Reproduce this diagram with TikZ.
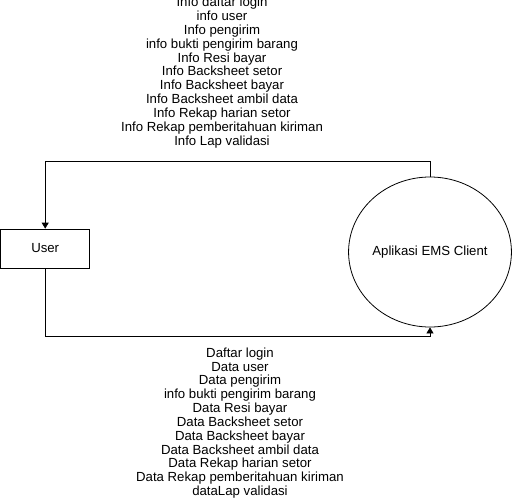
\documentclass[tikz,border=0pt]{standalone}
\usepackage{fontspec}
\setmainfont{Liberation Sans}
\usetikzlibrary{shapes.geometric,arrows.meta}
\begin{document}
\begin{tikzpicture}[x=1pt,y=-1pt,
  lbl/.style={align=center,inner sep=0pt,font=\fontsize{13.2}{13.85}\selectfont},
  entity/.style={draw,line width=0.8pt,minimum width=89pt,minimum height=39pt,inner sep=0pt,font=\fontsize{13.2}{14}\selectfont},
  proc/.style={draw,ellipse,line width=0.8pt,minimum width=159pt,minimum height=150pt,inner sep=0pt,font=\fontsize{13.2}{14}\selectfont},
  flow/.style={line width=0.8pt,-{Triangle[width=7pt,length=6pt]}}]
\useasboundingbox (0,0) rectangle (512,498);
\node[entity] (user) at (45.2,248.5) {User};
\node[proc] (app) at (430,252) {Aplikasi EMS Client};
\coordinate (tc) at (222,161.5);
\coordinate (bc) at (240,336.7);
\draw[flow] (app.north) |- (tc) -| (user.north);
\draw[flow] (user.south) |- (bc) -| (app.south);
\node[lbl] (toplbl) at (222,72.5) {Info daftar login\\info user\\Info pengirim\\info bukti pengirim barang\\Info Resi bayar\\Info Backsheet setor\\Info Backsheet bayar\\Info Backsheet ambil data\\Info Rekap harian setor\\Info Rekap pemberitahuan kiriman\\Info Lap validasi};
\node[lbl] (botlbl) at (240,423) {Daftar login\\Data user\\Data pengirim\\info bukti pengirim barang\\Data Resi bayar\\Data Backsheet setor\\Data Backsheet bayar\\Data Backsheet ambil data\\Data Rekap harian setor\\Data Rekap pemberitahuan kiriman\\dataLap validasi};
\end{tikzpicture}
\end{document}
